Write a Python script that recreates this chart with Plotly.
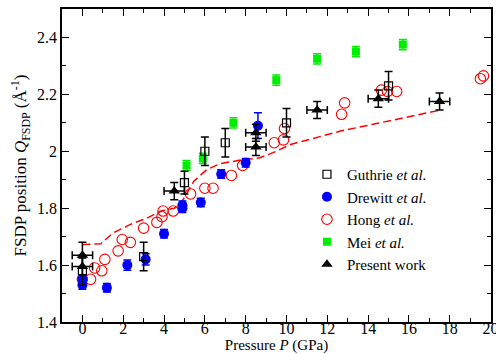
import plotly.graph_objects as go

# Guthrie et al.
guthrie_p = [0.0, 3.0, 5.0, 6.0, 7.0, 10.0, 15.0]
guthrie_q = [1.58, 1.63, 1.89, 2.00, 2.03, 2.10, 2.23]
guthrie_err = [0.05, 0.05, 0.04, 0.05, 0.05, 0.05, 0.05]

# Drewitt et al.
drewitt_p = [0.0, 0.0, 1.2, 2.2, 3.1, 4.0, 4.9, 4.9, 5.8, 6.8, 8.0, 8.6]
drewitt_q = [1.55, 1.53, 1.52, 1.60, 1.62, 1.71, 1.80, 1.81, 1.82, 1.92, 1.96, 2.09]
drewitt_err = [0.015, 0.015, 0.015, 0.018, 0.02, 0.015, 0.015, 0.015, 0.015, 0.015, 0.015, 0.045]

# Hong et al.
hong_p = [0.0, 0.4, 0.6, 0.95, 1.1, 1.75, 1.95, 2.35, 3.0, 3.65, 3.9, 3.95, 4.45,
          5.3, 6.0, 6.4, 7.3, 7.85, 9.4, 9.85, 9.9, 12.7, 12.85, 14.65, 14.95,
          15.4, 19.5, 19.65]
hong_q = [1.55, 1.55, 1.59, 1.58, 1.62, 1.65, 1.69, 1.68, 1.73, 1.75, 1.77, 1.79, 1.79,
          1.85, 1.87, 1.87, 1.915, 1.95, 2.03, 2.04, 2.08, 2.13, 2.17, 2.215, 2.21,
          2.21, 2.255, 2.265]

# Mei et al.
mei_p = [5.1, 5.9, 7.4, 9.5, 11.5, 13.4, 15.7]
mei_q = [1.95, 1.975, 2.10, 2.25, 2.325, 2.35, 2.375]
mei_err = [0.018, 0.018, 0.018, 0.018, 0.018, 0.018, 0.018]

# Present work
present_p = [0.0, 0.0, 4.5, 8.5, 8.5, 11.5, 14.5, 17.5]
present_q = [1.635, 1.595, 1.86, 2.065, 2.015, 2.145, 2.185, 2.175]
present_perr = [0.5, 0.5, 0.5, 0.5, 0.5, 0.5, 0.5, 0.5]
present_qerr = [0.045, 0.03, 0.03, 0.03, 0.03, 0.03, 0.03, 0.03]

# Dashed reference curve
curve_p = [0.0, 0.9, 1.5, 2.35, 3.2, 3.8, 4.5, 4.8, 5.1, 5.46, 6.1, 6.76, 7.75,
           8.7, 9.5, 10.2, 12.65, 15.1, 17.5]
curve_q = [1.672, 1.675, 1.713, 1.743, 1.766, 1.789, 1.80, 1.815, 1.85, 1.895, 1.936,
           1.957, 1.969, 1.977, 2.0, 2.024, 2.071, 2.107, 2.144]

BLUE = "#0000ff"
RED = "#ff0000"
GREEN = "#00ee00"
BLACK = "#000000"
FONT = "Liberation Serif, Times New Roman, serif"

fig = go.Figure()

fig.add_trace(go.Scatter(
    x=curve_p, y=curve_q, mode="lines", showlegend=False,
    line=dict(color=RED, width=1.5, dash="8px,4px"),
))

fig.add_trace(go.Scatter(
    x=hong_p, y=hong_q, mode="markers", name="Hong <i>et al.</i>", legendrank=3,
    marker=dict(symbol="circle-open", size=10.5, color=RED, line=dict(width=1.1, color=RED)),
))

fig.add_trace(go.Scatter(
    x=drewitt_p, y=drewitt_q, mode="markers", name="Drewitt <i>et al.</i>", legendrank=2,
    marker=dict(symbol="circle", size=10, color=BLUE),
    error_y=dict(type="data", array=drewitt_err, color=BLUE, thickness=1.5, width=4),
))

fig.add_trace(go.Scatter(
    x=mei_p, y=mei_q, mode="markers", name="Mei <i>et al.</i>", legendrank=4,
    marker=dict(symbol="square", size=8, color=GREEN),
    error_y=dict(type="data", array=mei_err, color=GREEN, thickness=1.5, width=4),
))

fig.add_trace(go.Scatter(
    x=guthrie_p, y=guthrie_q, mode="markers", name="Guthrie <i>et al.</i>", legendrank=1,
    marker=dict(symbol="square-open", size=8, color=BLACK, line=dict(width=1.2, color=BLACK)),
    error_y=dict(type="data", array=guthrie_err, color=BLACK, thickness=1.5, width=4),
))

fig.add_trace(go.Scatter(
    x=present_p, y=present_q, mode="markers", name="Present work", legendrank=5,
    marker=dict(symbol="triangle-up", size=10, color=BLACK),
    error_x=dict(type="data", array=present_perr, color=BLACK, thickness=1.5, width=4),
    error_y=dict(type="data", array=present_qerr, color=BLACK, thickness=1.5, width=4),
))

axis_common = dict(
    showline=True, linecolor=BLACK, linewidth=1.5, mirror="ticks",
    ticks="inside", ticklen=7, tickwidth=1.2, tickcolor=BLACK,
    showgrid=False, zeroline=False, automargin=False,
    tickfont=dict(family=FONT, size=16, color=BLACK),
)

fig.update_xaxes(
    range=[-1, 20.02], tickvals=[0, 2, 4, 6, 8, 10, 12, 14, 16, 18, 20],
    ticklabelstandoff=-9, ticklabeloverflow="allow",
    minor=dict(dtick=1, tick0=0, ticks="inside", ticklen=4, tickcolor=BLACK, tickwidth=1.2, showgrid=False),
    title=dict(text="Pressure <i>P</i> (GPa)", font=dict(family=FONT, size=15, color=BLACK), standoff=0),
    **axis_common,
)
fig.update_yaxes(
    range=[1.4, 2.5], dtick=0.2, tick0=1.4,
    minor=dict(dtick=0.1, ticks="inside", ticklen=4, tickcolor=BLACK, tickwidth=1.2, showgrid=False),
    title=dict(text="FSDP position <i>Q</i><sub>FSDP</sub> (Å<sup>-1</sup>)",
               font=dict(family=FONT, size=17, color=BLACK), standoff=6),
    **axis_common,
)

fig.update_layout(
    width=496, height=354,
    margin=dict(l=62, r=5, t=9, b=32),
    paper_bgcolor="white", plot_bgcolor="white",
    font=dict(family=FONT, color=BLACK),
    legend=dict(
        x=0.571, y=0.524, xanchor="left", yanchor="top",
        bgcolor="rgba(0,0,0,0)", borderwidth=0,
        font=dict(family=FONT, size=15, color=BLACK),
        tracegroupgap=0, itemsizing="trace",
    ),
)

fig.write_html("out.html")
